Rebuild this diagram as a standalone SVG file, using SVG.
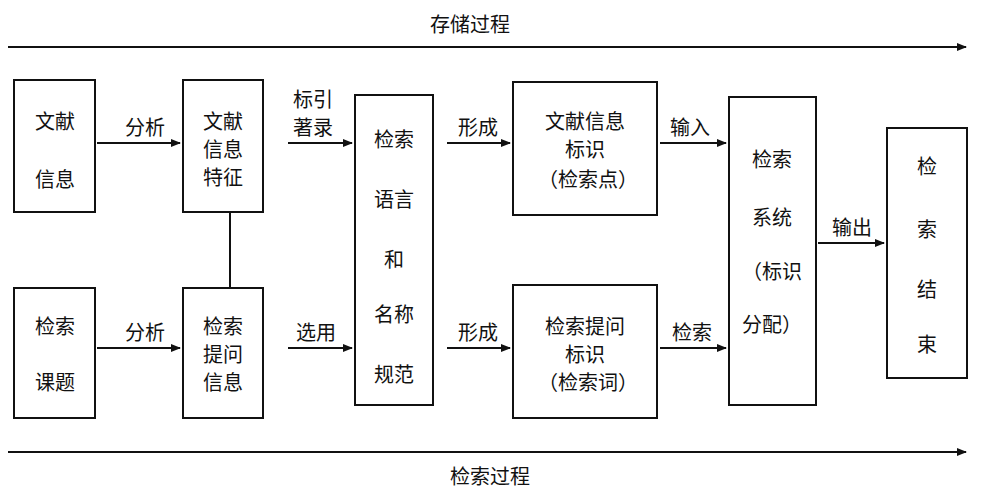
<svg xmlns="http://www.w3.org/2000/svg" width="987" height="500" viewBox="0 0 987 500">
<style>
.b{fill:#fff;stroke:#111;stroke-width:2}
.t{font-family:"Noto Sans CJK SC",sans-serif;font-size:20px;fill:#111;text-anchor:middle}
.l{stroke:#111;stroke-width:2;fill:none}
</style>
<defs><marker id="a" markerWidth="10" markerHeight="8" refX="9" refY="4" orient="auto" markerUnits="userSpaceOnUse"><path d="M0,0 L10,4 L0,8 Z" fill="#111"/></marker></defs>
<rect width="987" height="500" fill="#fff"/>
<g id="connectors">
<line class="l" x1="8" y1="47" x2="966" y2="47" marker-end="url(#a)"/>
<line class="l" x1="8" y1="452" x2="966" y2="452" marker-end="url(#a)"/>
<line class="l" x1="97" y1="143" x2="180" y2="143" marker-end="url(#a)"/>
<line class="l" x1="97" y1="348" x2="180" y2="348" marker-end="url(#a)"/>
<line class="l" x1="230" y1="212" x2="230" y2="288"/>
<line class="l" x1="288" y1="143" x2="352" y2="143" marker-end="url(#a)"/>
<line class="l" x1="288" y1="348" x2="352" y2="348" marker-end="url(#a)"/>
<line class="l" x1="447" y1="143" x2="510" y2="143" marker-end="url(#a)"/>
<line class="l" x1="447" y1="348" x2="510" y2="348" marker-end="url(#a)"/>
<line class="l" x1="660" y1="143" x2="726" y2="143" marker-end="url(#a)"/>
<line class="l" x1="660" y1="348" x2="726" y2="348" marker-end="url(#a)"/>
<line class="l" x1="818" y1="243" x2="884" y2="243" marker-end="url(#a)"/>
<text class="t" x="470" y="32">存储过程</text>
<text class="t" x="490" y="484">检索过程</text>
<text class="t" x="145" y="135">分析</text>
<text class="t" x="145" y="340">分析</text>
<text class="t" x="313" y="107">标引</text>
<text class="t" x="313" y="135">著录</text>
<text class="t" x="316" y="340">选用</text>
<text class="t" x="478" y="135">形成</text>
<text class="t" x="478" y="340">形成</text>
<text class="t" x="690" y="135">输入</text>
<text class="t" x="692" y="340">检索</text>
<text class="t" x="852" y="235">输出</text>
</g>
<g id="n1"><rect class="b" x="14" y="80" width="81" height="132"/><text class="t" x="55" y="129">文献</text><text class="t" x="55" y="187">信息</text></g>
<g id="n2"><rect class="b" x="14" y="288" width="81" height="130"/><text class="t" x="55" y="334">检索</text><text class="t" x="55" y="390">课题</text></g>
<g id="n3"><rect class="b" x="183" y="80" width="80" height="132"/><text class="t" x="223" y="129">文献</text><text class="t" x="223" y="157">信息</text><text class="t" x="223" y="185">特征</text></g>
<g id="n4"><rect class="b" x="183" y="288" width="80" height="130"/><text class="t" x="223" y="334">检索</text><text class="t" x="223" y="362">提问</text><text class="t" x="223" y="390">信息</text></g>
<g id="n5"><rect class="b" x="355" y="95" width="78" height="310"/><text class="t" x="394" y="147">检索</text><text class="t" x="394" y="207">语言</text><text class="t" x="394" y="267">和</text><text class="t" x="394" y="322">名称</text><text class="t" x="394" y="382">规范</text></g>
<g id="n6"><rect class="b" x="513" y="82" width="144" height="133"/><text class="t" x="585" y="129">文献信息</text><text class="t" x="585" y="157">标识</text><text class="t" x="588" y="187">（检索点）</text></g>
<g id="n7"><rect class="b" x="513" y="285" width="144" height="133"/><text class="t" x="585" y="334">检索提问</text><text class="t" x="585" y="362">标识</text><text class="t" x="588" y="390">（检索词）</text></g>
<g id="n8"><rect class="b" x="729" y="97" width="87" height="308"/><text class="t" x="772" y="167">检索</text><text class="t" x="772" y="225">系统</text><text class="t" x="772" y="279">（标识</text><text class="t" x="772" y="332">分配）</text></g>
<g id="n9"><rect class="b" x="887" y="128" width="80" height="250"/><text class="t" x="927" y="174">检</text><text class="t" x="927" y="237">索</text><text class="t" x="927" y="297">结</text><text class="t" x="927" y="352">束</text></g>
</svg>
